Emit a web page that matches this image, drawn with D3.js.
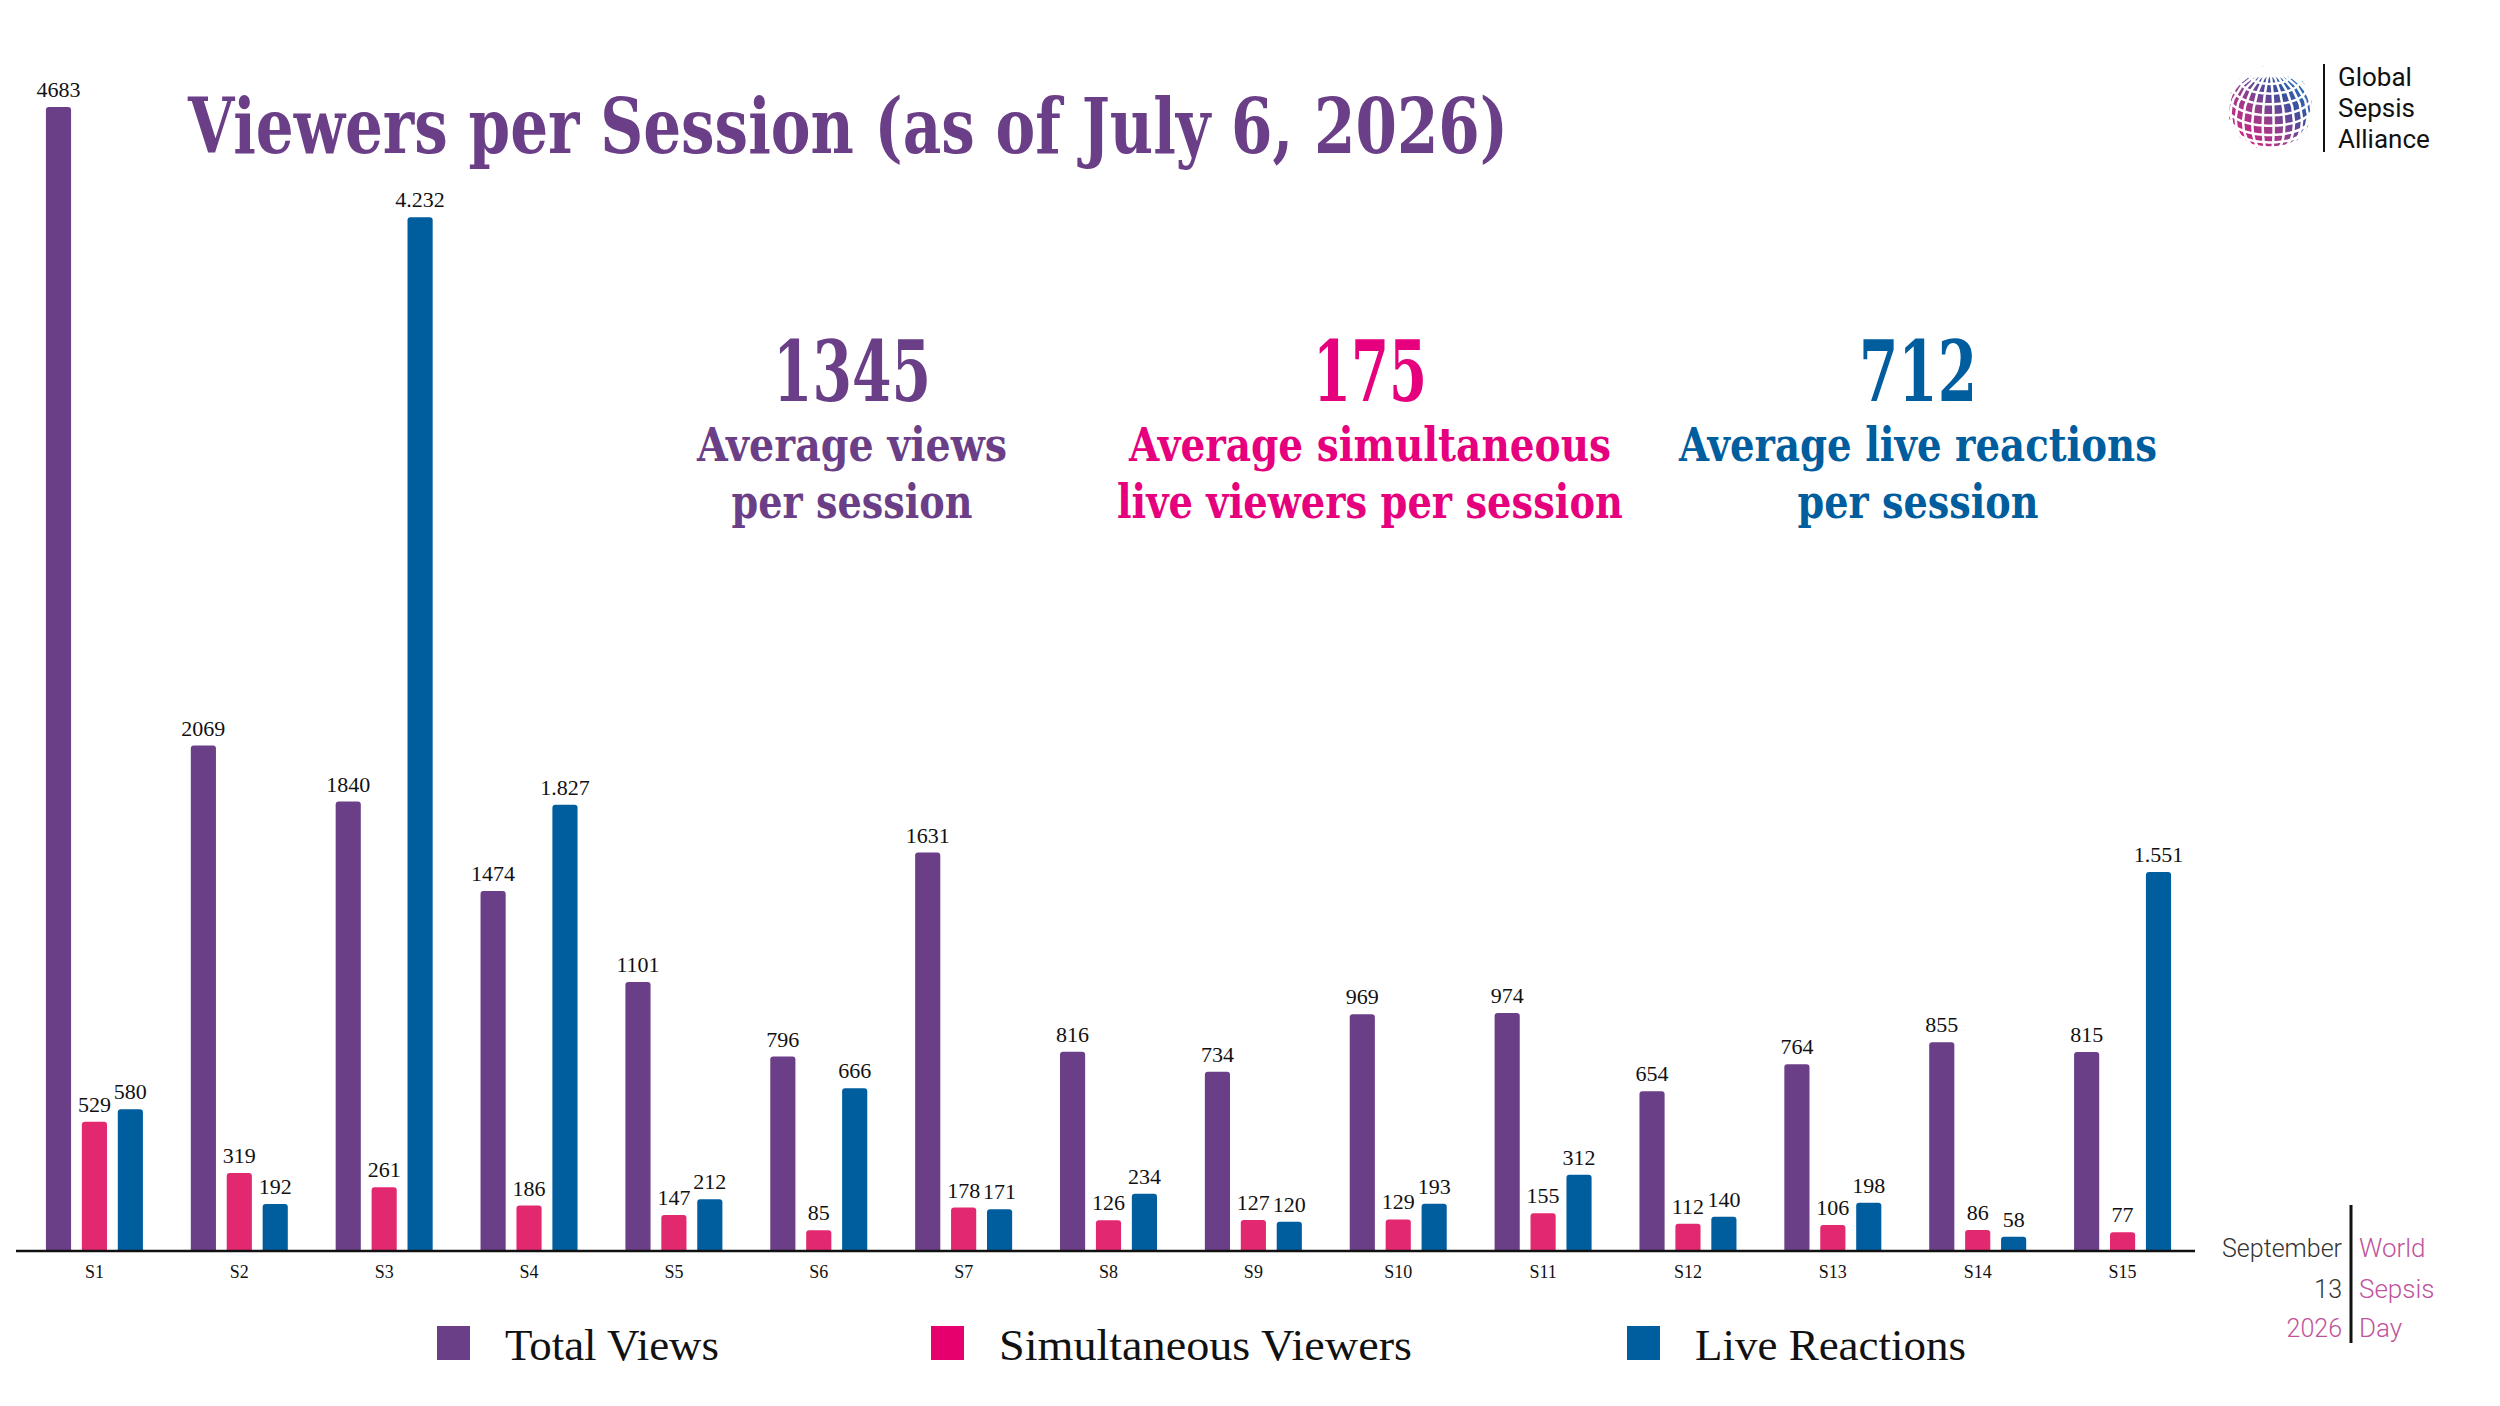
<!DOCTYPE html>
<html><head><meta charset="utf-8">
<script src="https://cdn.jsdelivr.net/npm/d3@7"></script>
<style>body{margin:0;background:#fff}svg{display:block}</style>
</head><body>
<script>
const sessions = ["S1","S2","S3","S4","S5","S6","S7","S8","S9","S10","S11","S12","S13","S14","S15"];
const totalViews = [4683,2069,1840,1474,1101,796,1631,816,734,969,974,654,764,855,815];
const simultaneousViewers = [529,319,261,186,147,85,178,126,127,129,155,112,106,86,77];
const liveReactions = [580,192,4232,1827,212,666,171,234,120,193,312,140,198,58,1551];
const seriesNames = ["Total Views","Simultaneous Viewers","Live Reactions"];
const seriesColors = ["#6b3f87","#e2296f","#005d9e"];
const legendColors = ["#6b3f87","#e6006e","#005d9e"];
const stats = [
  {value:"1345", lines:["Average views","per session"], color:"#6b3f87"},
  {value:"175", lines:["Average simultaneous","live viewers per session"], color:"#e6007e"},
  {value:"712", lines:["Average live reactions","per session"], color:"#005d9e"}
];

const W = 2500, H = 1406;
const svg = d3.select("body").append("svg").attr("width",W).attr("height",H);

const x0 = d3.scaleBand().domain(sessions).range([22,2195]).padding(0);
const x1 = d3.scaleBand().domain(seriesNames).range([0,97]).paddingInner(0.3).paddingOuter(0);
const y = d3.scaleLinear().domain([0,4683]).range([1251,107]);

const euro = d3.formatLocale({decimal:",",thousands:".",grouping:[3],currency:["€",""]}).format(",d");
const fmt = [d=>String(d), d=>String(d), d=> d>=1000 ? euro(d) : String(d)];

const data = sessions.map((s,i)=>({s, vals:[totalViews[i],simultaneousViewers[i],liveReactions[i]]}));

const g = svg.append("g");
data.forEach(d=>{
  const cx = x0(d.s) + x0.bandwidth()/2 - 48.5;
  d.vals.forEach((v,k)=>{
    const bx = cx + x1(seriesNames[k]);
    g.append("rect").attr("x",bx).attr("y",y(v)).attr("width",x1.bandwidth())
      .attr("height",y(0)-y(v)+2).attr("rx",3).attr("fill",seriesColors[k]);
    g.append("text").attr("x",bx+x1.bandwidth()/2).attr("y",y(v)-10)
      .attr("text-anchor","middle").attr("font-family","Liberation Serif, serif")
      .attr("font-size",22).attr("fill","#111").text(fmt[k](v));
  });
});
svg.append("rect").attr("x",0).attr("y",1252).attr("width",2200).attr("height",10).attr("fill","#fff");

// axis
const axis = d3.axisBottom(x0).tickSize(0).tickPadding(14);
const ax = svg.append("g").attr("transform","translate(0,1251)").call(axis);
ax.select(".domain").remove();
ax.append("line").attr("x1",16).attr("x2",2195).attr("y1",0).attr("y2",0).attr("stroke","#111").attr("stroke-width",2.5);
ax.selectAll("text").attr("font-family","Liberation Serif, serif").attr("font-size",18).attr("fill","#111");

// title
svg.append("text").attr("x",188).attr("y",153)
  .attr("font-family","DejaVu Serif, serif").attr("font-weight","bold")
  .attr("font-size",76).attr("fill","#6b3f87")
  .attr("textLength",1320).attr("lengthAdjust","spacingAndGlyphs")
  .text("Viewers per Session (as of July 6, 2026)");

// stats
const statX = [852,1370,1918];
const statValueW = [158,114,118];
const statLineW = [[310,241],[482,506],[478,241]];
stats.forEach((s,i)=>{
  svg.append("text").attr("x",statX[i]).attr("y",401).attr("text-anchor","middle")
    .attr("font-family","DejaVu Serif, serif").attr("font-weight","bold").attr("font-size",84)
    .attr("fill",s.color).attr("textLength",statValueW[i]).attr("lengthAdjust","spacingAndGlyphs").text(s.value);
  s.lines.forEach((l,j)=>{
    svg.append("text").attr("x",statX[i]).attr("y",461+j*57).attr("text-anchor","middle")
      .attr("font-family","DejaVu Serif, serif").attr("font-weight","bold").attr("font-size",46)
      .attr("fill",s.color).attr("textLength",statLineW[i][j]).attr("lengthAdjust","spacingAndGlyphs").text(l);
  });
});

// legend
const legX = [437,931,1627];
const legTW = [214,413,271];
seriesNames.forEach((n,i)=>{
  svg.append("rect").attr("x",legX[i]).attr("y",1326).attr("width",33).attr("height",34).attr("fill",legendColors[i]);
  svg.append("text").attr("x",legX[i]+68).attr("y",1360)
    .attr("font-family","Liberation Serif, serif").attr("font-size",44).attr("fill","#111")
    .attr("textLength",legTW[i]).attr("lengthAdjust","spacingAndGlyphs").text(n);
});

// logo globe
const defs = svg.append("defs");
const lg = defs.append("linearGradient").attr("id","globeGrad").attr("x1","1").attr("y1","0").attr("x2","0").attr("y2","1");
lg.append("stop").attr("offset","0").attr("stop-color","#1a8fd0");
lg.append("stop").attr("offset","0.35").attr("stop-color","#3b4f9e");
lg.append("stop").attr("offset","0.6").attr("stop-color","#9a3d8c");
lg.append("stop").attr("offset","1").attr("stop-color","#e8157a");
const proj = d3.geoOrthographic().rotate([95,-25]).scale(42).translate([2270,108]);
const path = d3.geoPath(proj);
svg.append("path").datum({type:"Sphere"}).attr("d",path).attr("fill","url(#globeGrad)");
svg.append("path").datum(d3.geoGraticule().step([15,15])()).attr("d",path)
  .attr("fill","none").attr("stroke","#fff").attr("stroke-width",2.5);
svg.append("line").attr("x1",2324).attr("x2",2324).attr("y1",64).attr("y2",152).attr("stroke","#111").attr("stroke-width",2);
["Global","Sepsis","Alliance"].forEach((t,i)=>{
  svg.append("text").attr("x",2338).attr("y",86+i*31).attr("font-family","Roboto, sans-serif")
    .attr("font-size",26).attr("fill","#111").text(t);
});

// bottom right date block
svg.append("line").attr("x1",2351).attr("x2",2351).attr("y1",1205).attr("y2",1343).attr("stroke","#111").attr("stroke-width",3);
const leftTxt = [["September","#333"],["13","#333"],["2026","#c0549c"]];
const rightTxt = ["World","Sepsis","Day"];
[1257,1298,1337].forEach((yy,i)=>{
  svg.append("text").attr("x",2342).attr("y",yy).attr("text-anchor","end")
    .attr("font-family","Roboto, sans-serif").attr("font-weight",300).attr("font-size",25)
    .attr("fill",leftTxt[i][1]).text(leftTxt[i][0]);
  svg.append("text").attr("x",2359).attr("y",yy)
    .attr("font-family","Roboto, sans-serif").attr("font-weight",300).attr("font-size",26)
    .attr("fill","#c0549c").text(rightTxt[i]);
});
</script>
</body></html>
